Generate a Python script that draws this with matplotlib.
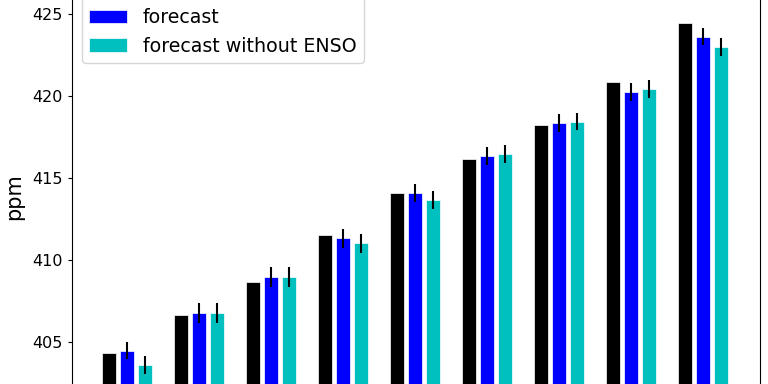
import numpy as np
import matplotlib
matplotlib.use('Agg')
import matplotlib.pyplot as plt

# annual mean CO2 (ppm)
years = [2016, 2017, 2018, 2019, 2020, 2021, 2022, 2023, 2024]
observed = [404.31, 406.63, 408.64, 411.52, 414.07, 416.16, 418.25, 420.83, 424.45]
forecast = [404.47, 406.77, 408.96, 411.34, 414.07, 416.34, 418.35, 420.26, 423.62]
forecast_err = [0.51, 0.61, 0.59, 0.58, 0.55, 0.56, 0.53, 0.55, 0.53]
forecast_noenso = [403.60, 406.77, 408.96, 411.02, 413.68, 416.46, 418.43, 420.43, 423.00]
forecast_noenso_err = [0.57, 0.63, 0.60, 0.59, 0.54, 0.54, 0.52, 0.53, 0.55]

W, H = 768, 384
fig = plt.figure(figsize=(W / 100, H / 100), dpi=100)

# the reference is a crop of a bigger chart: axes runs past top and bottom
px_per_ppm = 16.4
y425 = 14
ylo, yhi = 400, 428
bottom = 1 - (y425 + (425 - ylo) * px_per_ppm) / H
height = (yhi - ylo) * px_per_ppm / H
ax = fig.add_axes([72 / W, bottom, (760 - 72) / W, height])

x = np.arange(len(years))
w = 0.2
ax.bar(x - 0.25, observed, w, color='k', edgecolor='white', linewidth=0.5, label='observed')
ax.bar(x, forecast, w, color='b', edgecolor='white', linewidth=0.5, label='forecast')
ax.bar(x + 0.25, forecast_noenso, w, color='c', edgecolor='white', linewidth=0.5,
       label='forecast without ENSO')
ax.errorbar(x, forecast, yerr=forecast_err, fmt='none', ecolor='k', elinewidth=1.5)
ax.errorbar(x + 0.25, forecast_noenso, yerr=forecast_noenso_err, fmt='none', ecolor='k', elinewidth=1.5)

ax.set_xlim(-0.764, 8.79)
ax.set_ylim(ylo, yhi)
ax.set_yticks([405, 410, 415, 420, 425])
ax.tick_params(axis='y', labelsize=11.5, length=3)
# year labels sit below the visible crop
ax.set_xticks([])
ax.set_ylabel('ppm', fontsize=15)
ax.yaxis.set_label_coords(-0.07, (1 - 197 / H - bottom) / height)

ax.legend(loc='lower left', bbox_to_anchor=(81.7 / W, 1 - 63.3 / H),
          bbox_transform=fig.transFigure, borderaxespad=0, fontsize=13.7)

fig.savefig('out.png', dpi=100)
